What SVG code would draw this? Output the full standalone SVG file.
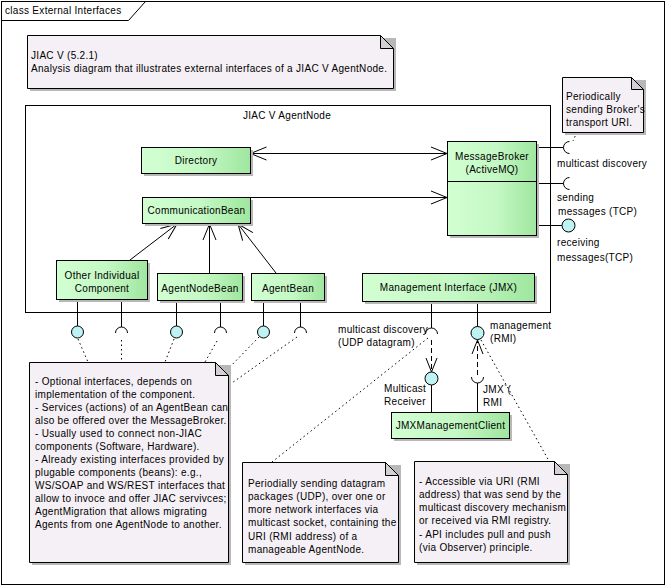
<svg xmlns="http://www.w3.org/2000/svg" width="667" height="588" viewBox="0 0 667 588">
  <defs>
    <linearGradient id="compFill" x1="0" y1="0" x2="1" y2="0">
      <stop offset="0" stop-color="#d2ffd2"/>
      <stop offset="0.55" stop-color="#c4f8c4"/>
      <stop offset="1" stop-color="#9fe69f"/>
    </linearGradient>
    <marker id="open" viewBox="-17 -8 18 16" refX="0" refY="0" markerWidth="18" markerHeight="16" markerUnits="userSpaceOnUse" orient="auto-start-reverse">
      <path d="M-16,-6.5 L0,0 L-16,6.5" fill="none" stroke="#000" stroke-width="1"/>
    </marker>
    <marker id="openSmall" viewBox="-15 -7 16 14" refX="0" refY="0" markerWidth="16" markerHeight="14" markerUnits="userSpaceOnUse" orient="auto">
      <path d="M-14,-5.5 L0,0 L-14,5.5" fill="none" stroke="#000" stroke-width="1"/>
    </marker>
  </defs>
  <style>
    .t { font-family: "Liberation Sans", Arial, sans-serif; font-size: 10px; letter-spacing: 0.3px; fill: #000; }
    .c { text-anchor: middle; }
    .box { fill: url(#compFill); stroke: #000; stroke-width: 1; }
    .shadow { fill: #b8b8b8; }
    .note { fill: #f5f0f5; stroke: #000; stroke-width: 1; }
    .fold { fill: #d2d0d2; stroke: #000; stroke-width: 1; }
    .ln { fill: none; stroke: #000; stroke-width: 1; }
    .dot { fill: none; stroke: #000; stroke-width: 1; stroke-dasharray: 1.5 3; }
    .dash { fill: none; stroke: #000; stroke-width: 1; stroke-dasharray: 5 3; }
    .lolly { fill: #bff2f2; stroke: #000; stroke-width: 1; }
  </style>

  <rect width="667" height="588" fill="#ffffff"/>

  <!-- diagram frame with its name tab -->
  <g id="frame">
    <rect x="1.5" y="1.5" width="663" height="583" class="ln"/>
    <path d="M1.5,20.5 H128.5 L145.5,1.5" class="ln"/>
    <text x="5" y="14" class="t">class External Interfaces</text>
  </g>

  <!-- header note -->
  <g id="note-header">
    <path d="M30,38 H396 V91 H30 Z" class="shadow"/>
    <path d="M27.5,35.5 H380.5 L393.5,48.5 V88.5 H27.5 Z" class="note"/>
    <path d="M380.5,35.5 V48.5 H393.5 Z" class="fold"/>
    <text x="31" y="59" class="t">JIAC V (5.2.1)</text>
    <text x="31" y="72" class="t">Analysis diagram that illustrates external interfaces of a JIAC V AgentNode.</text>
  </g>

  <!-- AgentNode container -->
  <g id="agentnode">
    <rect x="25.5" y="105.5" width="525" height="207" class="ln" fill="#fff"/>
    <text x="287" y="119" class="t c">JIAC V AgentNode</text>
  </g>

  <!-- connectors -->
  <g id="connectors">
    <!-- Directory <-> MessageBroker -->
    <line x1="250.5" y1="153.5" x2="447" y2="153.5" class="ln" marker-start="url(#open)" marker-end="url(#open)"/>
    <!-- CommunicationBean -> MessageBroker -->
    <line x1="250.5" y1="197.5" x2="447" y2="197.5" class="ln" marker-end="url(#open)"/>
    <!-- beans -> CommunicationBean -->
    <line x1="130" y1="260" x2="177" y2="224" class="ln" marker-end="url(#open)"/>
    <line x1="209.5" y1="273" x2="209.5" y2="224" class="ln" marker-end="url(#open)"/>
    <line x1="276" y1="273" x2="238" y2="224" class="ln" marker-end="url(#open)"/>

    <!-- provided / required interfaces of the beans -->
    <line x1="77.5" y1="299" x2="77.5" y2="326" class="ln"/>
    <line x1="121.5" y1="299" x2="121.5" y2="327" class="ln"/>
    <line x1="176.5" y1="300" x2="176.5" y2="326" class="ln"/>
    <line x1="220.5" y1="300" x2="220.5" y2="327" class="ln"/>
    <line x1="263.5" y1="300" x2="263.5" y2="326" class="ln"/>
    <line x1="300.5" y1="300" x2="300.5" y2="327" class="ln"/>
    <circle cx="77.5" cy="332" r="6" class="lolly"/>
    <path d="M115.5,333 A6,6 0 0 1 127.5,333" class="ln"/>
    <circle cx="176.5" cy="332" r="6" class="lolly"/>
    <path d="M214.5,333 A6,6 0 0 1 226.5,333" class="ln"/>
    <circle cx="263.5" cy="332" r="6" class="lolly"/>
    <path d="M294.5,333 A6,6 0 0 1 306.5,333" class="ln"/>

    <!-- MessageBroker interfaces -->
    <line x1="536" y1="147.5" x2="563.5" y2="147.5" class="ln"/>
    <path d="M569.5,141.5 A6,6 0 0 0 569.5,153.5" class="ln"/>
    <line x1="536" y1="183.5" x2="563.5" y2="183.5" class="ln"/>
    <path d="M569.5,177.5 A6,6 0 0 0 569.5,189.5" class="ln"/>
    <line x1="536" y1="225.5" x2="562" y2="225.5" class="ln"/>
    <circle cx="568.5" cy="225.5" r="6.5" class="lolly"/>

    <!-- Management Interface interfaces -->
    <line x1="431.5" y1="301" x2="431.5" y2="328" class="ln"/>
    <path d="M425.5,334 A6,6 0 0 1 437.5,334" class="ln"/>
    <line x1="477.5" y1="301" x2="477.5" y2="327" class="ln"/>
    <circle cx="477.5" cy="333" r="6.5" class="lolly"/>

    <!-- JMXManagementClient interfaces -->
    <circle cx="431.5" cy="378.5" r="6.5" class="lolly"/>
    <line x1="431.5" y1="385" x2="431.5" y2="412" class="ln"/>
    <path d="M471.5,377 A6,6 0 0 0 483.5,377" class="ln"/>
    <line x1="477.5" y1="383" x2="477.5" y2="412" class="ln"/>
    <line x1="431.5" y1="340" x2="431.5" y2="372" class="dash" marker-end="url(#openSmall)"/>
    <line x1="477.5" y1="375" x2="477.5" y2="340" class="dash" marker-end="url(#openSmall)"/>

    <!-- note links -->
    <line x1="78" y1="339" x2="88" y2="362" class="dot"/>
    <line x1="121.5" y1="340" x2="121.5" y2="362" class="dot"/>
    <line x1="174" y1="339" x2="165" y2="362" class="dot"/>
    <line x1="217" y1="341" x2="205" y2="362" class="dot"/>
    <line x1="259" y1="337" x2="226" y2="371" class="dot"/>
    <line x1="297" y1="337" x2="229" y2="385" class="dot"/>
    <line x1="428" y1="338" x2="272" y2="462" class="dot"/>
    <line x1="481" y1="340" x2="549" y2="461" class="dot"/>
    <line x1="577" y1="132" x2="573" y2="141" class="dot"/>
  </g>

  <!-- components -->
  <g id="directory">
    <rect x="144" y="150" width="109" height="26" class="shadow"/>
    <rect x="141.5" y="147.5" width="109" height="26" class="box"/>
    <text x="196" y="164" class="t c">Directory</text>
  </g>
  <g id="communication-bean">
    <rect x="145" y="200" width="108" height="26" class="shadow"/>
    <rect x="142.5" y="197.5" width="108" height="26" class="box"/>
    <text x="196.5" y="214" class="t c">CommunicationBean</text>
  </g>
  <g id="other-component">
    <rect x="59" y="263" width="91" height="39" class="shadow"/>
    <rect x="56.5" y="260.5" width="91" height="39" class="box"/>
    <text x="102" y="279" class="t c">Other Individual</text>
    <text x="102" y="292" class="t c">Component</text>
  </g>
  <g id="agentnode-bean">
    <rect x="160" y="276" width="85" height="27" class="shadow"/>
    <rect x="157.5" y="273.5" width="85" height="27" class="box"/>
    <text x="200" y="292" class="t c">AgentNodeBean</text>
  </g>
  <g id="agent-bean">
    <rect x="254" y="276" width="73" height="27" class="shadow"/>
    <rect x="251.5" y="273.5" width="73" height="27" class="box"/>
    <text x="288" y="292" class="t c">AgentBean</text>
  </g>
  <g id="message-broker">
    <rect x="450" y="144" width="89" height="94" class="shadow"/>
    <rect x="447.5" y="141.5" width="89" height="94" class="box"/>
    <line x1="447.5" y1="181.5" x2="536.5" y2="181.5" class="ln"/>
    <text x="492" y="160" class="t c">MessageBroker</text>
    <text x="492" y="173" class="t c">(ActiveMQ)</text>
  </g>
  <g id="management-interface">
    <rect x="365" y="276" width="172" height="28" class="shadow"/>
    <rect x="362.5" y="273.5" width="172" height="28" class="box"/>
    <text x="448.5" y="291" class="t c">Management Interface (JMX)</text>
  </g>
  <g id="jmx-client">
    <rect x="394" y="415" width="118" height="26" class="shadow"/>
    <rect x="391.5" y="412.5" width="118" height="26" class="box"/>
    <text x="450.5" y="429" class="t c">JMXManagementClient</text>
  </g>

  <!-- interface labels -->
  <g id="interface-labels">
    <text x="557" y="167" class="t">multicast discovery</text>
    <text x="557" y="201" class="t">sending</text>
    <text x="558" y="215" class="t">messages (TCP)</text>
    <text x="557" y="246" class="t">receiving</text>
    <text x="557" y="261" class="t">messages(TCP)</text>
    <text x="338" y="333" class="t">multicast discovery</text>
    <text x="338" y="346" class="t">(UDP datagram)</text>
    <text x="490" y="329" class="t">management</text>
    <text x="490" y="342" class="t">(RMI)</text>
    <text x="384" y="392" class="t">Multicast</text>
    <text x="384" y="405" class="t">Receiver</text>
    <text x="483" y="393" class="t">JMX`(</text>
    <text x="483" y="406" class="t">RMI</text>
  </g>

  <!-- notes -->
  <g id="note-broker">
    <path d="M565,80 H646 V135 H565 Z" class="shadow"/>
    <path d="M562.5,77.5 H631.5 L643.5,89.5 V132.5 H562.5 Z" class="note"/>
    <path d="M631.5,77.5 V89.5 H643.5 Z" class="fold"/>
    <text x="566" y="100" class="t">Periodically</text>
    <text x="566" y="113" class="t">sending Broker's</text>
    <text x="566" y="126" class="t">transport URI.</text>
  </g>
  <g id="note-components">
    <path d="M32,365 H231 V565 H32 Z" class="shadow"/>
    <path d="M29.5,362.5 H215.5 L228.5,375.5 V562.5 H29.5 Z" class="note"/>
    <path d="M215.5,362.5 V375.5 H228.5 Z" class="fold"/>
    <text x="35" y="385" class="t">- Optional interfaces, depends on</text>
    <text x="35" y="398" class="t">implementation of the component.</text>
    <text x="35" y="411" class="t">- Services (actions) of an AgentBean can</text>
    <text x="35" y="424" class="t">also be offered over the MessageBroker.</text>
    <text x="35" y="437" class="t">- Usually used to connect non-JIAC</text>
    <text x="35" y="450" class="t">components (Software, Hardware).</text>
    <text x="35" y="463" class="t">- Already existing interfaces provided by</text>
    <text x="35" y="476" class="t">plugable components (beans): e.g.,</text>
    <text x="35" y="489" class="t">WS/SOAP and WS/REST interfaces that</text>
    <text x="35" y="502" class="t">allow to invoce and offer JIAC servivces;</text>
    <text x="35" y="515" class="t">AgentMigration that allows migrating</text>
    <text x="35" y="528" class="t">Agents from one AgentNode to another.</text>
  </g>
  <g id="note-multicast">
    <path d="M245,465 H401 V565 H245 Z" class="shadow"/>
    <path d="M242.5,462.5 H385.5 L398.5,475.5 V562.5 H242.5 Z" class="note"/>
    <path d="M385.5,462.5 V475.5 H398.5 Z" class="fold"/>
    <text x="248" y="487" class="t">Periodially sending datagram</text>
    <text x="248" y="500" class="t">packages (UDP), over one or</text>
    <text x="248" y="513" class="t">more network interfaces via</text>
    <text x="248" y="526" class="t">multicast socket, containing the</text>
    <text x="248" y="540" class="t">URI (RMI address) of a</text>
    <text x="248" y="553" class="t">manageable AgentNode.</text>
  </g>
  <g id="note-management">
    <path d="M417,464 H570 V565 H417 Z" class="shadow"/>
    <path d="M414.5,461.5 H554.5 L567.5,474.5 V562.5 H414.5 Z" class="note"/>
    <path d="M554.5,461.5 V474.5 H567.5 Z" class="fold"/>
    <text x="419" y="485" class="t">- Accessible via URI (RMI</text>
    <text x="419" y="498" class="t">address) that was send by the</text>
    <text x="419" y="511" class="t">multicast discovery mechanism</text>
    <text x="419" y="524" class="t">or received via RMI registry.</text>
    <text x="419" y="538" class="t">- API includes pull and push</text>
    <text x="419" y="551" class="t">(via Observer) principle.</text>
  </g>
</svg>
